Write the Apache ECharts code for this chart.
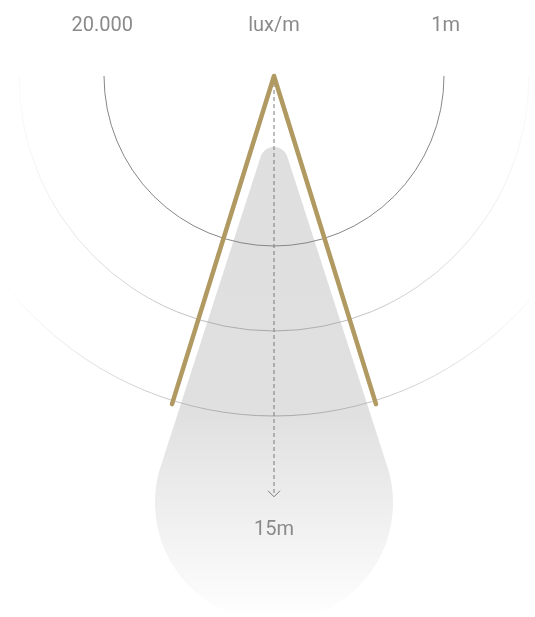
<!DOCTYPE html>
<html>
<head>
<meta charset="utf-8">
<script src="https://cdn.jsdelivr.net/npm/echarts@6/dist/echarts.min.js"></script>
<style>
html,body{margin:0;padding:0;background:#fff;}
#chart{width:535px;height:617px;}
</style>
</head>
<body>
<div id="chart"></div>
<script>
// ---- data (abstract distance units; lamp at origin, y grows downward) ----
const arcRadii = [2, 3, 4];
const beamX = [-1.2, 0, 1.2];
const beamY = [3.86, 0, 3.86];
const arrowLength = 4.95;
const spotTopY = 1.0, spotTopR = 0.165, spotBottomY = 5.02, spotBottomR = 1.4;
const topLabels = ['20.000', 'lux/m', '1m'];
const topLabelX = [-2.02, 0, 2.02];
const topLabelY = -0.59;
const distanceLabel = '15m';
const distanceLabelY = 5.345;

// ---- chart ----
const chart = echarts.init(document.getElementById('chart'), null, {renderer: 'canvas'});
const FONT = 'Roboto, "Noto Sans", sans-serif';
const TEXT_COLOR = '#8a8a8a';

const option = {
  animation: false,
  grid: {left: 0, right: 0, top: 0, bottom: 0},
  xAxis: {type: 'value', min: -274 / 85, max: 261 / 85, show: false},
  yAxis: {type: 'value', inverse: true, min: -76 / 85, max: 541 / 85, show: false},
  series: [
    {
      // light spot (teardrop)
      type: 'custom', z: 1, silent: true,
      data: [[spotTopY, spotTopR, spotBottomY, spotBottomR]],
      renderItem: function (params, api) {
        const T = api.coord([0, api.value(0)]);
        const r1 = api.size([api.value(1), 0])[0];
        const B = api.coord([0, api.value(2)]);
        const r2 = api.size([api.value(3), 0])[0];
        const phi = Math.asin((r2 - r1) / (B[1] - T[1]));
        const pts = [];
        const n = 60;
        for (let i = 0; i <= n; i++) {
          const a = Math.PI + phi + (Math.PI - 2 * phi) * i / n;
          pts.push([T[0] + r1 * Math.cos(a), T[1] + r1 * Math.sin(a)]);
        }
        for (let i = 0; i <= n * 2; i++) {
          const a = -phi + (Math.PI + 2 * phi) * i / (n * 2);
          pts.push([B[0] + r2 * Math.cos(a), B[1] + r2 * Math.sin(a)]);
        }
        const top = T[1] - r1, bottom = B[1] + r2;
        return {
          type: 'polygon',
          shape: {points: pts},
          style: {
            fill: new echarts.graphic.LinearGradient(0, top, 0, bottom, [
              {offset: 0, color: '#dfdfdf'},
              {offset: 0.56, color: '#e0e0e0'},
              {offset: 1, color: '#ffffff'}
            ], true),
            stroke: null
          }
        };
      }
    },
    {
      // distance arcs
      type: 'custom', z: 2, silent: true,
      data: arcRadii.map(r => [r]),
      renderItem: function (params, api) {
        const c = api.coord([0, 0]);
        const r = api.size([api.value(0), 0])[0];
        let stroke;
        if (params.dataIndex === 0) {
          stroke = '#868686';
        } else {
          stroke = new echarts.graphic.LinearGradient(c[0] - 274, 0, c[0] + 274, 0, [
            {offset: 0, color: 'rgba(165,165,165,0)'},
            {offset: 0.25, color: 'rgba(165,165,165,0.5)'},
            {offset: 0.5, color: 'rgba(165,165,165,1)'},
            {offset: 0.75, color: 'rgba(165,165,165,0.5)'},
            {offset: 1, color: 'rgba(165,165,165,0)'}
          ], true);
        }
        return {
          type: 'arc',
          shape: {cx: c[0], cy: c[1], r: r, startAngle: 0, endAngle: Math.PI, clockwise: true},
          style: {stroke: stroke, fill: null, lineWidth: 1}
        };
      }
    },
    {
      // dashed centre axis with arrow
      type: 'custom', z: 3, silent: true,
      data: [[arrowLength]],
      renderItem: function (params, api) {
        const p0 = api.coord([0, 0]);
        const p1 = api.coord([0, api.value(0)]);
        return {
          type: 'group',
          children: [
            {type: 'line', shape: {x1: p0[0], y1: p0[1], x2: p1[0], y2: p1[1] - 1},
             style: {stroke: '#7a7a7a', lineWidth: 1, lineDash: [4, 3]}},
            {type: 'polyline', shape: {points: [[p1[0] - 6, p1[1] - 6], [p1[0], p1[1]], [p1[0] + 6, p1[1] - 6]]},
             style: {stroke: '#7a7a7a', lineWidth: 1, fill: null}}
          ]
        };
      }
    },
    {
      // beam outline
      type: 'line', z: 4, silent: true,
      data: beamX.map((x, i) => [x, beamY[i]]),
      symbol: 'none',
      lineStyle: {color: '#b09a62', width: 4.5, cap: 'round', join: 'round'}
    },
    {
      // top labels
      type: 'custom', z: 5, silent: true,
      data: topLabelX.map(x => [x, topLabelY]),
      renderItem: function (params, api) {
        const p = api.coord([api.value(0), api.value(1)]);
        return {
          type: 'text', x: p[0], y: p[1],
          style: {text: topLabels[params.dataIndex], align: 'center', verticalAlign: 'middle',
                  fontSize: 20, fontFamily: FONT, fill: TEXT_COLOR}
        };
      }
    },
    {
      // distance label
      type: 'custom', z: 5, silent: true,
      data: [[0, distanceLabelY]],
      renderItem: function (params, api) {
        const p = api.coord([api.value(0), api.value(1)]);
        return {
          type: 'text', x: p[0], y: p[1],
          style: {text: distanceLabel, align: 'center', verticalAlign: 'middle',
                  fontSize: 20, fontFamily: FONT, fill: TEXT_COLOR}
        };
      }
    }
  ]
};
chart.setOption(option);
</script>
</body>
</html>
